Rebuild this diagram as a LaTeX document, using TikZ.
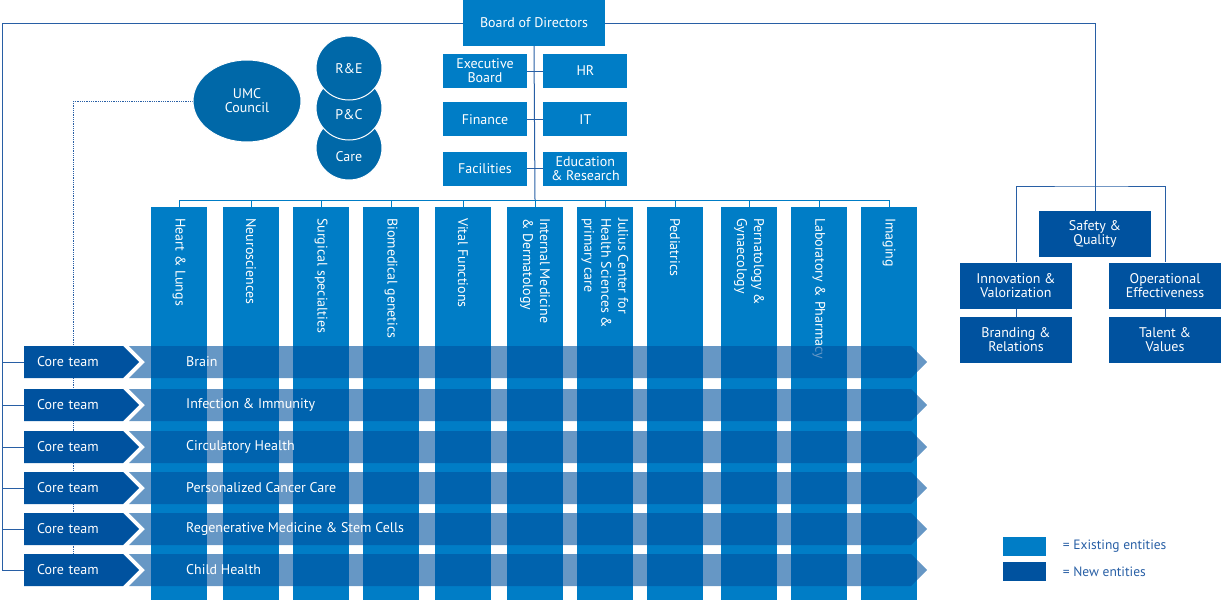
\documentclass[tikz,border=0pt]{standalone}
\usepackage{fontspec}
\setmainfont{PT Sans}
\usetikzlibrary{positioning, shapes.geometric, shapes.symbols, backgrounds}
\usepackage{xcolor}

\definecolor{oldblue}{RGB}{0,125,198}
\definecolor{newblue}{RGB}{0,82,159}
\definecolor{councilblue}{RGB}{0,104,168}
\definecolor{linkblue}{RGB}{40,95,165}

\begin{document}
\begin{tikzpicture}[
    x=1pt, y=-1pt,
    every node/.style={font=\fontsize{14}{14}\selectfont},
    box/.style={fill=oldblue, text=white, minimum width=84, minimum height=34, align=center, inner sep=1pt},
    newbox/.style={fill=newblue, text=white, minimum width=112, minimum height=46, align=center, inner sep=1pt},
    column/.style={fill=oldblue, minimum width=56, minimum height=393, anchor=north, inner sep=0pt},
    coltext/.style={rotate=-90, anchor=west, align=left, text=white, inner sep=2pt, font=\fontsize{14}{17}\selectfont},
    band/.style={shape=signal, signal from=west, signal to=east, fill=newblue, fill opacity=0.6, minimum width=798, minimum height=32, inner sep=0pt},
    rowtext/.style={anchor=west, text=white, inner sep=0pt},
    coreteam/.style={shape=signal, signal to=east, fill=newblue, text=white, minimum height=32, text width=73, inner xsep=13, inner ysep=0pt, anchor=west},
    council/.style={ellipse, fill=councilblue, draw=white, line width=1pt, text=white, align=center, inner sep=0pt},
    circ/.style={council, minimum width=66, minimum height=64, text height=10pt, text depth=0pt},
    link/.style={draw=linkblue, line width=1pt},
    barlink/.style={draw=oldblue, line width=0.9pt},
    legbox/.style={minimum width=43, minimum height=19, inner sep=0pt},
    legtext/.style={text=linkblue, font=\fontsize{13.5}{14}\selectfont, inner sep=0pt, anchor=west}
]
\useasboundingbox (0,0) rectangle (1223,608);

% Top: board and staff departments
\node[box, minimum width=142, minimum height=46] (board) at (534,23) {Board of Directors};
\node[box] (exec) at (485,71) {Executive\\Board};
\node[box, right=16pt of exec] (hr) {HR};
\node[box, below=14pt of exec] (fin) {Finance};
\node[box, right=16pt of fin] (it) {IT};
\node[box, below=15pt of fin] (fac) {Facilities};
\node[box, right=16pt of fac] (edu) {Education\\\& Research};

\coordinate (bar) at (535,200);
\draw[link] (board.south) -- (bar);
\draw[link] (exec.east) -- (hr.west);
\draw[link] (fin.east) -- (it.west);
\draw[link] (fac.east) -- (edu.west);

% Divisions
\foreach \i/\cx/\lbl in {1/179/{Heart \& Lungs}, 2/251/{Neurosciences}, 3/321/{Surgical specialties},
    4/391/{Biomedical genetics}, 5/463/{Vital Functions}, 6/535/{Internal Medicine\\\& Dermatology},
    7/605/{Julius Center for\\Health Sciences \&\\primary care}, 8/675/{Pediatrics},
    9/749/{Pernatology \&\\Gynaecology}, 10/819/{Laboratory \& Pharmacy}, 11/889/{Imaging}}{
  \node[column] (c\i) at (\cx,207) {};
  \node[coltext] (t\i) at (\cx,216) {\lbl};
  \draw[barlink] (c\i.north) -- ++(0,-7);
}
\draw[barlink] (c1.north |- bar) -- (c11.north |- bar);

% Strategic themes
\foreach \r/\ry/\lbl in {1/362/{Brain}, 2/405/{Infection \& Immunity}, 3/447/{Circulatory Health},
    4/488/{Personalized Cancer Care}, 5/529/{Regenerative Medicine \& Stem Cells}, 6/570/{Child Health}}{
  \node[band] (b\r) at (528,\ry) {};
  \node[rowtext] (r\r) at (186,\ry) {\lbl};
  \node[coreteam] (k\r) at (24,\ry) {Core team};
}

% Left frame
\coordinate (lf) at (2,0);
\draw[link] (board.west) -| (lf |- k6.west) -- (k6.west);
\foreach \r in {1,...,5}
  \draw[link] (lf |- k\r.west) -- (k\r.west);

% Councils
\node[council, minimum width=108, minimum height=82] (umc) at (247,101) {UMC\\Council};
\node[circ] (care) at (349,148) {\raisebox{-8pt}{Care}};
\node[circ] (pc) at (349,108) {\raisebox{-6pt}{P\&C}};
\node[circ] (re) at (349,68) {R\&E};

\begin{scope}[on background layer]
  \draw[linkblue, line width=0.8pt, densely dotted] (umc.west) -| (k6.center);
\end{scope}

% Right: board committees
\node[newbox] (safety) at (1095,234) {Safety \&\\Quality};
\node[newbox] (innov) at (1016,285.5) {Innovation \&\\Valorization};
\node[newbox] (oper) at (1165,285.5) {Operational\\Effectiveness};
\node[newbox, below=8pt of innov] (brand) {Branding \&\\Relations};
\node[newbox, below=8pt of oper] (talent) {Talent \&\\Values};

\coordinate (rbar) at (1092,186);
\draw[link] (board.east) -| (safety.north);
\draw[link] (innov.north) |- (rbar) -| (oper.north);
\draw[link] (innov) -- (brand);
\draw[link] (oper) -- (talent);

% Legend
\node[legbox, fill=oldblue] (exist) at (1024,546) {};
\node[legbox, fill=newblue, below=6pt of exist] (new) {};
\node[legtext, right=17pt of exist] (existtxt) {= Existing entities};
\node[legtext, right=17pt of new] (newtxt) {= New entities};

\end{tikzpicture}
\end{document}
